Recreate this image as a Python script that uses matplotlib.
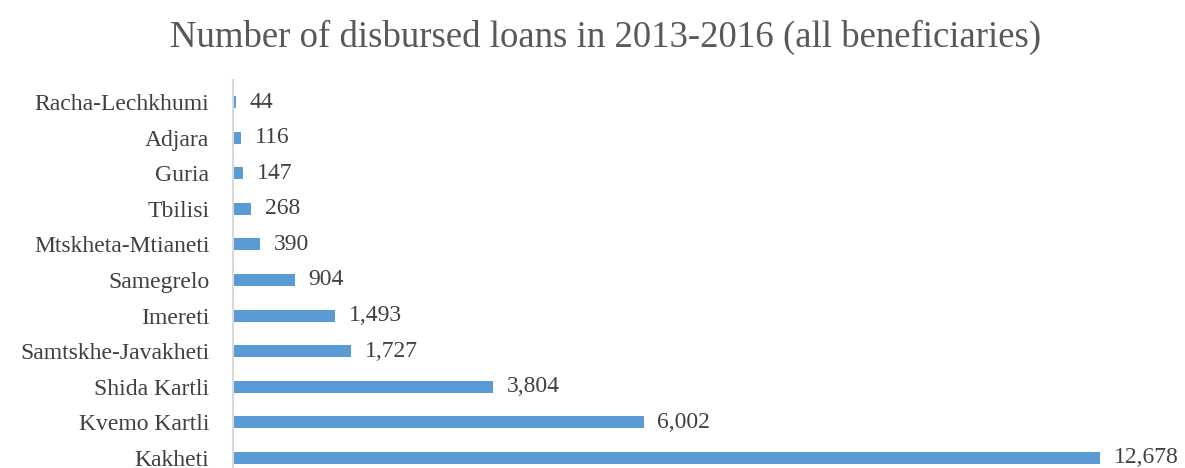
import matplotlib
matplotlib.use('agg')
from matplotlib import pyplot as plt

regions = ['Kakheti', 'Kvemo Kartli', 'Shida Kartli', 'Samtskhe-Javakheti', 'Imereti',
           'Samegrelo', 'Mtskheta-Mtianeti', 'Tbilisi', 'Guria', 'Adjara', 'Racha-Lechkhumi']
loans = [12678, 6002, 3804, 1727, 1493, 904, 390, 268, 147, 116, 44]

plt.rcParams['font.family'] = ['Liberation Serif', 'DejaVu Serif']

fig = plt.figure(figsize=(11.85, 4.68), dpi=100)
ax = fig.add_axes([233 / 1185, 0, 1 - 233 / 1185, 388 / 468])

pos = list(range(len(regions)))
ax.barh(pos, loans, height=0.34, color='#5B9BD5')
for p, v in zip(pos, loans):
    ax.annotate(f'{v:,}', (v, p), xytext=(10, 0), textcoords='offset points',
                va='center', ha='left', fontsize=17, color='#404040')

ax.set_xlim(0, 13918)
ax.set_ylim(-0.281, 10.618)
ax.set_yticks(pos)
ax.set_yticklabels(regions, fontsize=17, color='#404040')
ax.tick_params(axis='y', length=0, pad=17)
ax.set_xticks([])
for s in ['top', 'right', 'bottom']:
    ax.spines[s].set_visible(False)
ax.spines['left'].set_color('#D9D9D9')
ax.spines['left'].set_linewidth(1.5)

fig.text(0.511, 0.92, 'Number of disbursed loans in 2013-2016 (all beneficiaries)',
         ha='center', va='center', fontsize=26.5, color='#595959')

fig.savefig('out.png', dpi=100)
